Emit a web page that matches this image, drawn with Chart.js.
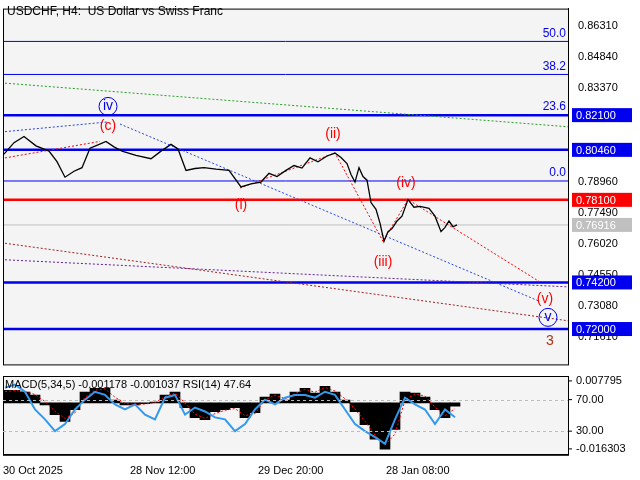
<!DOCTYPE html>
<html><head><meta charset="utf-8">
<script src="https://cdn.jsdelivr.net/npm/chart.js@4"></script>
<style>
body{margin:0;background:#fff;width:640px;height:480px;overflow:hidden;position:relative}
canvas{position:absolute;left:0}
#top{top:0}#bot{top:373px}
</style></head><body>
<canvas id="top" width="640" height="373"></canvas>
<canvas id="bot" width="640" height="107"></canvas>
<script>
// price path (x in chart pixels from left, price)
const priceX = [4,14,24,36,49,57,65,74,82,90,98,106,114,122,136,151,161,171,178,186,195,204,216,229,241,251,261,269,277,286,294,302,310,318,327,335,341,347,351,355,359,363,367,371,376,380,384,388,392,397,402,408,414,420,429,435,441,445,449,453,457];
const priceY = [0.8026,0.8080,0.8109,0.8065,0.8040,0.7990,0.7917,0.7945,0.7962,0.8054,0.8070,0.8086,0.8060,0.8040,0.8020,0.8004,0.8040,0.8072,0.8050,0.7949,0.7958,0.7962,0.7955,0.7949,0.7871,0.7885,0.7894,0.7935,0.7920,0.7949,0.7972,0.7960,0.8008,0.7990,0.8017,0.8031,0.8010,0.7981,0.7930,0.7894,0.7962,0.7920,0.7903,0.7797,0.7765,0.7700,0.7614,0.7660,0.7674,0.7710,0.7733,0.7811,0.7775,0.7779,0.7770,0.7733,0.7660,0.7680,0.7710,0.7683,0.76916];
const priceTicks = [0.86310,0.84840,0.83370,0.81900,0.80460,0.78960,0.77490,0.76020,0.74550,0.73080,0.71610];
const fibLevels = [0.8558,0.8402,0.8210,0.7899];
const fibNames = ['50.0','38.2','23.6','0.0'];
const boldLevels = [0.8210,0.8046,0.7420,0.7200];
const redLevel = 0.7810, lastPrice = 0.76916;
const boxes = [['0.82100',0.8210,'#0000ee'],['0.80460',0.8046,'#0000ee'],['0.78100',0.7810,'#ff0000'],['0.76916',0.76916,'#c0c0c0'],['0.74200',0.7420,'#0000ee'],['0.72000',0.7200,'#0000ee']];
const trendLines = [
  {pts:[[5,0.8361],[568,0.8155]],color:'#22a022'},
  {pts:[[5,0.8132],[108,0.8178]],color:'#2244ee'},
  {pts:[[120,0.8168],[540,0.7330]],color:'#2244ee'},
  {pts:[[5,0.7605],[568,0.7239]],color:'#a02020'},
  {pts:[[5,0.7527],[568,0.7399]],color:'#6020a0'},
  {pts:[[5,0.8008],[100,0.8086]],color:'#ff0000'},
  {pts:[[240,0.7866],[335,0.8031],[383,0.7614],[408,0.7811],[540,0.7422]],color:'#ff0000'}
];
const waveLabels = [
  ['(c)',108,0.8159,'#ff0000',false],['iv',108,0.8251,'#0000ee',true],['(ii)',333,0.8118,'#ff0000',false],
  ['(i)',241,0.7784,'#ff0000',false],['(iv)',406,0.7889,'#ff0000',false],['(iii)',383,0.7516,'#ff0000',false],
  ['(v)',545,0.7342,'#ff0000',false],['v',548,0.7255,'#0000ee',true],['3',550,0.7145,'#b03010',false]
];
// oscillators
const oscX = [5,15,25,35,45,55,65,75,85,95,105,115,125,135,145,155,165,175,185,195,205,215,225,235,245,255,265,275,285,295,305,315,325,335,345,355,365,375,385,395,405,415,425,435,445,455];
const macdHist = [0.0045,0.0045,0.0038,0.0028,-0.0007,-0.0042,-0.0066,-0.0024,0.0038,0.0052,0.0052,0.0010,-0.0007,-0.0007,-0.0003,0.0003,0.0028,0.0038,-0.0017,-0.0052,-0.0059,-0.0031,-0.0024,-0.0017,-0.0052,-0.0035,0.0021,0.0031,0.0010,0.0038,0.0052,0.0035,0.0059,0.0038,0.0010,-0.0031,-0.0077,-0.0129,-0.0164,-0.0094,0.0038,0.0035,0.0021,-0.0024,-0.0052,-0.0012];
const macdSignal = [0.0040,0.0044,0.0040,0.0030,0.0005,-0.0030,-0.0055,-0.0035,0.0020,0.0045,0.0050,0.0020,-0.0002,-0.0006,-0.0004,0.0001,0.0022,0.0035,0.0000,-0.0040,-0.0055,-0.0038,-0.0026,-0.0020,-0.0045,-0.0038,0.0010,0.0028,0.0015,0.0033,0.0048,0.0038,0.0055,0.0042,0.0015,-0.0022,-0.0065,-0.0115,-0.0150,-0.0110,0.0010,0.0032,0.0024,-0.0015,-0.0045,-0.0020];
const rsi = [85,89,80,57.5,45,30,39,57.5,70,80,76,64,57.5,64,51,45,72.5,76,51,60,55,47.5,45,30,39,57.5,70,64,72.5,76,76,72.5,80,76,57.5,39,30,22.5,14,45,72.5,64,57.5,39,57.5,47.64];
const timeTicks = [3,130,258,386];
const timeLabels = ['30 Oct 2025','28 Nov 12:00','29 Dec 20:00','28 Jan 08:00'];

const FONT = 'Liberation Sans';
Chart.defaults.font.family = FONT;
Chart.defaults.animation = false;

const frame = {
  id:'frame',
  beforeDraw(c){const a=c.chartArea,x=c.ctx;x.save();x.fillStyle='#f4f4f4';x.fillRect(a.left,a.top,a.right-a.left,a.bottom-a.top);x.restore();},
  afterDraw(c){const a=c.chartArea,x=c.ctx;x.save();x.strokeStyle='#000';x.lineWidth=1;x.strokeRect(a.left+0.5,a.top+0.5,a.right-a.left,a.bottom-a.top);x.restore();}
};
const fixedArea = (w)=>({afterFit(s){s.width=w;}});

const levelDs = (v,color,w)=>({type:'line',data:[{x:3,y:v},{x:568,y:v}],borderColor:color,borderWidth:w,pointRadius:0,order:5});

const topDatasets = [
  {type:'line',data:priceX.map((x,i)=>({x,y:priceY[i]})),borderColor:'#000',borderWidth:1.3,pointRadius:0,order:0},
  ...fibLevels.map(v=>levelDs(v,'#0000ee',1)),
  ...boldLevels.map(v=>levelDs(v,'#0000ee',2.5)),
  levelDs(redLevel,'#ff0000',2.5),
  levelDs(lastPrice,'#c0c0c0',1),
  ...trendLines.map(t=>({type:'line',data:t.pts.map(p=>({x:p[0],y:p[1]})),borderColor:t.color,borderWidth:1,borderDash:[2,2],pointRadius:0,order:2}))
];

const topText = {
  id:'topText',
  afterDraw(c){
    const x=c.ctx,xs=c.scales.x,ys=c.scales.y,a=c.chartArea;
    x.save();
    x.font='12px '+FONT;x.fillStyle='#000';x.textBaseline='middle';x.textAlign='left';
    x.fillText('USDCHF, H4:  US Dollar vs Swiss Franc',7,12);
    x.textAlign='right';x.fillStyle='#0000ee';
    fibLevels.forEach((v,i)=>x.fillText(fibNames[i],a.right-2,ys.getPixelForValue(v)-8));
    x.textAlign='center';x.font='14px '+FONT;
    waveLabels.forEach(l=>{
      const px=xs.getPixelForValue(l[1]),py=ys.getPixelForValue(l[2]);
      x.fillStyle=l[3];x.fillText(l[0],px,py);
      if(l[4]){x.strokeStyle=l[3];x.lineWidth=1;x.beginPath();x.arc(px,py,9,0,Math.PI*2);x.stroke();}
    });
    x.font='11px '+FONT;x.textAlign='left';
    boxes.forEach(b=>{
      const py=ys.getPixelForValue(b[1]);
      x.fillStyle=b[2];x.fillRect(a.right+4,py-7,60,14);
      x.fillStyle='#fff';x.fillText(b[0],a.right+8,py+1);
    });
    x.restore();
  }
};

new Chart(document.getElementById('top'),{
  data:{datasets:topDatasets},
  options:{responsive:false,layout:{padding:{left:3,top:3,right:0,bottom:3}},
    plugins:{legend:{display:false},tooltip:{enabled:false}},
    scales:{
      x:{type:'linear',min:3,max:568,display:false},
      y:{position:'right',min:0.7033,max:0.8713,grid:{display:false},border:{color:'#000'},
        afterBuildTicks(s){s.ticks=priceTicks.map(v=>({value:v}));},
        ticks:{color:'#000',font:{size:11},padding:2,callback:v=>v.toFixed(5)},
        ...fixedArea(72)}
    }},
  plugins:[frame,topText]
});

const botText = {
  id:'botText',
  afterDraw(c){
    const x=c.ctx,a=c.chartArea,yr=c.scales.yr;
    x.save();x.strokeStyle='#bbb';x.setLineDash([3,3]);x.lineWidth=1;
    [70,30].forEach(v=>{const py=Math.round(yr.getPixelForValue(v))+0.5;x.beginPath();x.moveTo(a.left,py);x.lineTo(a.right,py);x.stroke();});
    x.setLineDash([]);x.strokeStyle='#000';
    x.font='11px '+FONT;x.fillStyle='#000';x.textBaseline='middle';x.textAlign='left';
    x.fillText('MACD(5,34,5) -0.001178 -0.001037 RSI(14) 47.64',5,12);
    [['0.007795',0.007795,'ym'],['70.00',70,'yr'],['30.00',30,'yr'],['-0.016303',-0.016303,'ym']].forEach(t=>{
      const py=c.scales[t[2]].getPixelForValue(t[1]);
      x.fillText(t[0],a.right+8,py);x.beginPath();x.moveTo(a.right,py);x.lineTo(a.right+4,py);x.stroke();
    });
    x.restore();
  }
};

new Chart(document.getElementById('bot'),{
  data:{datasets:[
    {type:'bar',data:oscX.map((v,i)=>({x:v,y:macdHist[i]})),yAxisID:'ym',backgroundColor:'#000',barThickness:10,order:3},
    {type:'line',data:oscX.map((v,i)=>({x:v,y:macdSignal[i]})),yAxisID:'ym',borderColor:'#ff0000',borderWidth:1,borderDash:[2,2],pointRadius:0,order:2},
    {type:'line',data:oscX.map((v,i)=>({x:v,y:rsi[i]})),yAxisID:'yr',borderColor:'#3399ee',borderWidth:2,pointRadius:0,order:1}
  ]},
  options:{responsive:false,layout:{padding:{left:3,top:3,right:0,bottom:0}},
    plugins:{legend:{display:false},tooltip:{enabled:false}},
    scales:{
      x:{type:'linear',offset:false,min:3,max:568,grid:{display:false,offset:false},border:{color:'#000'},
        afterBuildTicks(s){s.ticks=timeTicks.map(v=>({value:v}));},
        ticks:{color:'#000',font:{size:11},align:'start',maxRotation:0,autoSkip:false,padding:2,callback:v=>timeLabels[timeTicks.indexOf(v)]}},
      ym:{position:'right',min:-0.0184,max:0.00954,display:true,grid:{display:false},ticks:{display:false},border:{display:false},...fixedArea(72)},
      yr:{position:'right',min:0,max:100,display:false}
    }},
  plugins:[frame,botText]
});
</script></body></html>
